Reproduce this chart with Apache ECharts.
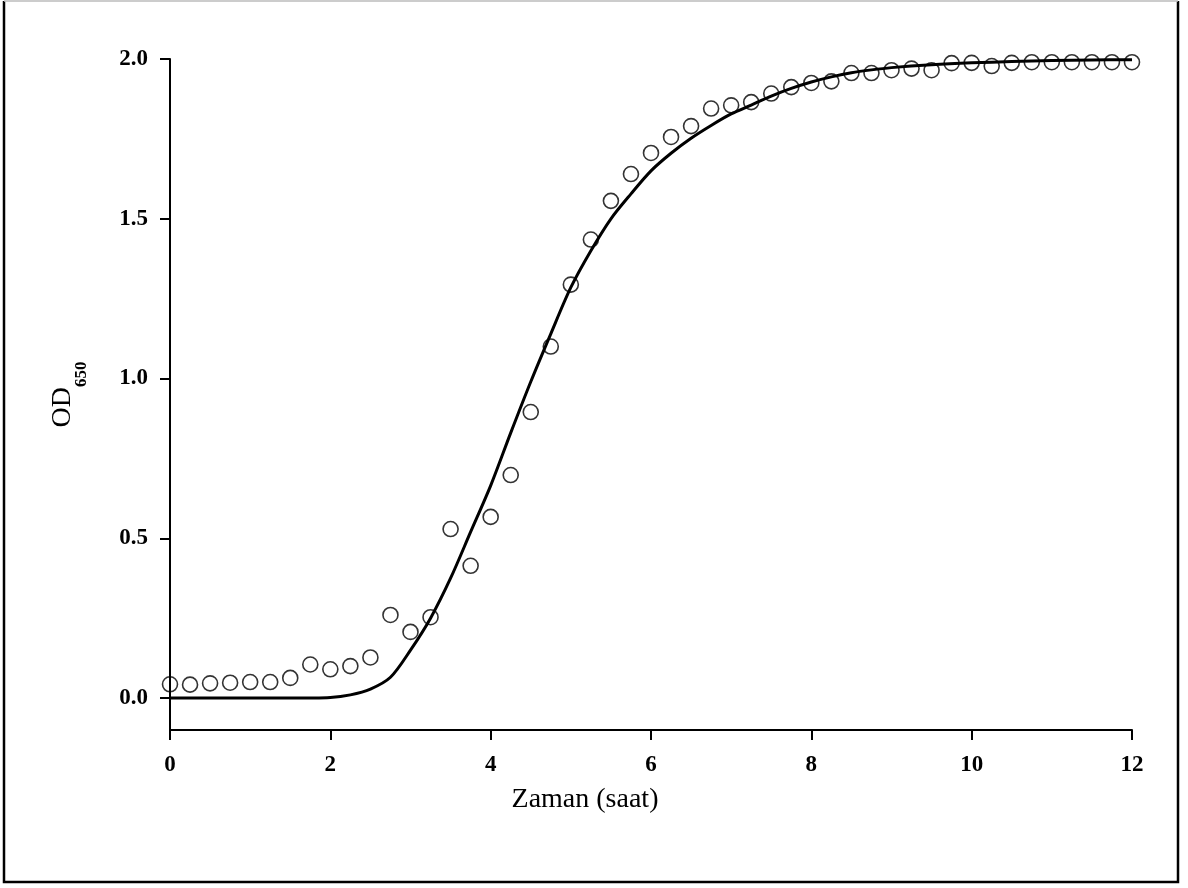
<!DOCTYPE html>
<html>
<head>
<meta charset="utf-8">
<script src="https://cdn.jsdelivr.net/npm/echarts@6/dist/echarts.min.js"></script>
<style>
html,body{margin:0;padding:0;background:#fff;}
#main{width:1188px;height:888px;}
</style>
</head>
<body>
<div id="main"></div>
<script>
// measured OD650 (circles), one every 15 min
var timeObs = [0,0.25,0.5,0.75,1,1.25,1.5,1.75,2,2.25,2.5,2.75,3,3.25,3.5,3.75,4,4.25,4.5,4.75,5,5.25,5.5,5.75,6,6.25,6.5,6.75,7,7.25,7.5,7.75,8,8.25,8.5,8.75,9,9.25,9.5,9.75,10,10.25,10.5,10.75,11,11.25,11.5,11.75,12];
var odObs = [0.043,0.042,0.046,0.048,0.05,0.05,0.063,0.105,0.09,0.1,0.127,0.26,0.207,0.253,0.529,0.414,0.567,0.698,0.895,1.1,1.294,1.435,1.556,1.64,1.706,1.756,1.79,1.845,1.855,1.865,1.892,1.912,1.925,1.93,1.956,1.956,1.965,1.97,1.965,1.987,1.988,1.978,1.988,1.99,1.99,1.99,1.99,1.99,1.99];

// fitted curve (solid line)
var timeFit = [0,0.5,1,1.5,2,2.25,2.5,2.75,3,3.25,3.5,3.75,4,4.25,4.5,4.75,5,5.25,5.5,5.75,6,6.25,6.5,6.75,7,7.25,7.5,7.75,8,8.25,8.5,8.75,9,9.5,10,10.5,11,11.5,12];
var odFit = [0,0,0,0,0.002,0.01,0.028,0.065,0.15,0.25,0.375,0.52,0.665,0.83,0.99,1.14,1.285,1.4,1.5,1.578,1.65,1.705,1.752,1.792,1.828,1.856,1.884,1.908,1.928,1.944,1.957,1.966,1.973,1.982,1.988,1.992,1.995,1.997,1.998];

var yTicks = [0,0.5,1,1.5,2];

function pairs(xs, ys){
	var out = [];
	for (var i = 0; i < xs.length; i++) {
		out.push([xs[i], ys[i]]);
	}
	return out;
}

var myChart = echarts.init(document.getElementById('main'));
var serif = '"Liberation Serif", "Times New Roman", serif';

var option = {
	backgroundColor: '#fff',
	animation: false,
	grid: {left: 170, right: 56, top: 59, bottom: 158},
	graphic: [
		// frame round the picture, top edge is lighter in the original
		{
			type: 'polyline',
			shape: {points: [[4, 1], [4, 882], [1178, 882], [1178, 1]]},
			style: {fill: 'none', stroke: '#000', lineWidth: 2.5}
		},
		{
			type: 'line',
			shape: {x1: 4, y1: 1, x2: 1178, y2: 1},
			style: {stroke: '#bbb', lineWidth: 1.5}
		}
	],
	xAxis: {
		type: 'value',
		min: 0,
		max: 12,
		interval: 2,
		name: 'Zaman (saat)',
		nameLocation: 'middle',
		nameGap: 56,
		nameTextStyle: {
			fontFamily: serif,
			fontSize: 28,
			color: '#000',
			padding: [0, 132, 0, 0]
		},
		axisLine: {onZero: false, lineStyle: {color: '#000', width: 2}},
		axisTick: {show: true, inside: false, length: 10, lineStyle: {color: '#000', width: 2}},
		axisLabel: {
			margin: 24,
			fontFamily: serif,
			fontWeight: 'bold',
			fontSize: 23,
			color: '#000'
		},
		splitLine: {show: false}
	},
	yAxis: {
		type: 'value',
		min: -0.1,
		max: 2.0,
		name: '{a|OD}{b|650}',
		nameLocation: 'middle',
		nameRotate: 90,
		nameGap: 92,
		nameTextStyle: {
			rich: {
				a: {fontFamily: serif, fontSize: 28, color: '#000', lineHeight: 30},
				b: {fontFamily: serif, fontSize: 17, fontWeight: 'bold', color: '#000', verticalAlign: 'bottom', padding: [0, 0, -12, 0]}
			}
		},
		axisLine: {onZero: false, lineStyle: {color: '#000', width: 2}},
		axisTick: {show: true, inside: false, length: 10, customValues: yTicks, lineStyle: {color: '#000', width: 2}},
		axisLabel: {
			margin: 22,
			customValues: yTicks,
			fontFamily: serif,
			fontWeight: 'bold',
			fontSize: 23,
			color: '#000',
			formatter: function (v) { return v.toFixed(1); }
		},
		splitLine: {show: false}
	},
	series: [
		{
			type: 'scatter',
			data: pairs(timeObs, odObs),
			symbol: 'circle',
			symbolSize: 15,
			itemStyle: {color: 'rgba(0,0,0,0)', borderColor: '#000', borderWidth: 1.6},
			z: 2
		},
		{
			type: 'line',
			data: pairs(timeFit, odFit),
			smooth: 0.3,
			showSymbol: false,
			lineStyle: {color: '#000', width: 3},
			z: 3
		}
	]
};

myChart.setOption(option);
</script>
</body>
</html>
